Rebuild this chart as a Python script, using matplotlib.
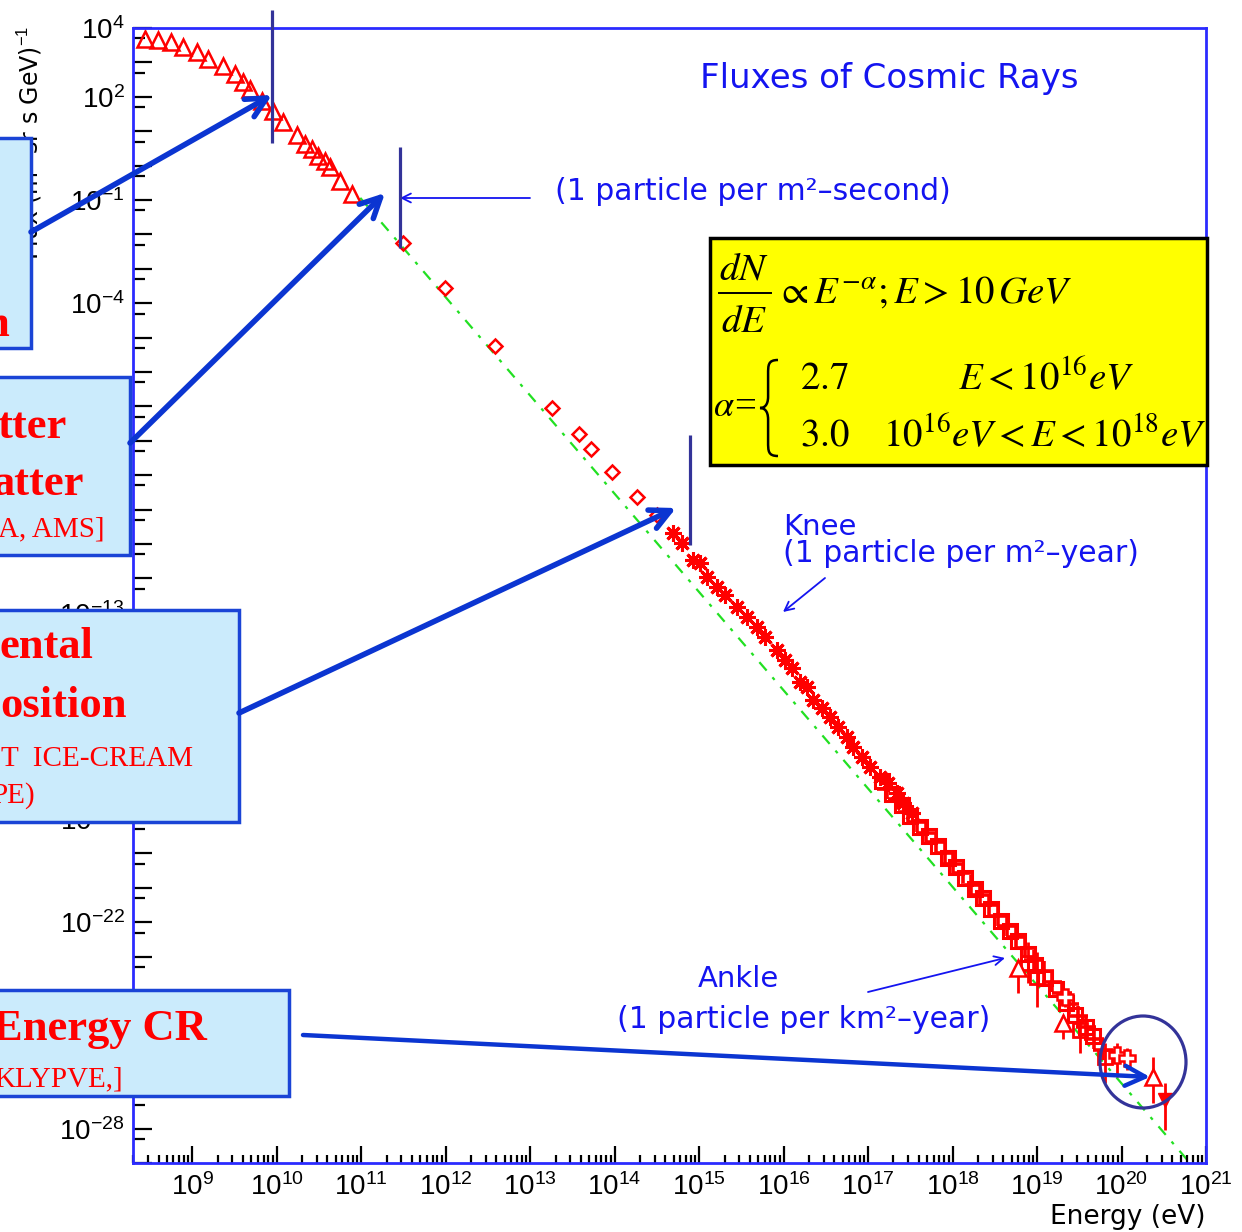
import matplotlib
matplotlib.use("Agg")
import matplotlib.pyplot as plt
import matplotlib.patches as mpatches
from matplotlib.path import Path
from matplotlib.ticker import FixedLocator, FuncFormatter, NullFormatter
import numpy as np

plt.rcParams["font.family"] = ["DejaVu Sans"]
plt.rcParams["mathtext.fontset"] = "custom"
plt.rcParams["mathtext.rm"] = "Liberation Sans"

W, H = 1242, 1232

# ---- measured spectrum, log10(E / eV) and log10(flux) ----
tri_logE = [8.44, 8.60, 8.75, 8.89, 9.06, 9.19, 9.37, 9.51, 9.60, 9.69, 9.83,
            9.96, 10.08, 10.24, 10.34, 10.42, 10.49, 10.57, 10.63, 10.75, 10.89]
tri_logF = [3.68, 3.65, 3.59, 3.45, 3.30, 3.10, 2.90, 2.66, 2.43, 2.23, 1.88,
            1.59, 1.27, 0.89, 0.63, 0.48, 0.28, 0.13, -0.04, -0.45, -0.83]

dia_logE = [11.50, 11.99, 12.59, 13.26, 13.58, 13.72, 13.97, 14.27, 14.50]
dia_logF = [-2.25, -3.56, -5.24, -7.05, -7.80, -8.24, -8.91, -9.63, -10.16]

star_logE = [14.69, 14.80, 14.93, 15.01, 15.09, 15.21, 15.31, 15.45, 15.57, 15.69,
             15.78, 15.92, 16.02, 16.10, 16.20, 16.28, 16.35, 16.46, 16.55, 16.64,
             16.75, 16.82, 16.93, 17.02, 17.14, 17.24, 17.34, 17.41, 17.52]
star_logF = [-10.68, -10.97, -11.47, -11.55, -11.96, -12.25, -12.48, -12.83, -13.12, -13.41,
             -13.70, -14.08, -14.37, -14.60, -15.01, -15.16, -15.53, -15.77, -16.03, -16.32,
             -16.61, -16.90, -17.19, -17.48, -17.77, -17.95, -18.24, -18.53, -18.82]

sq_logE = [17.16, 17.28, 17.40, 17.50, 17.62, 17.72, 17.83, 17.95, 18.04, 18.15, 18.26, 18.36,
           18.46, 18.57, 18.68, 18.78, 18.89, 18.98, 19.10, 19.22, 19.34, 19.45, 19.58, 19.66]
sq_logF = [-17.90, -18.26, -18.60, -18.90, -19.22, -19.48, -19.78, -20.12, -20.40, -20.72, -21.02, -21.30,
           -21.62, -21.95, -22.25, -22.55, -22.92, -23.25, -23.62, -23.95, -24.35, -24.70, -25.05, -25.30]

pl_logE = [17.22, 17.36, 17.47, 17.58, 17.69, 17.80, 17.91, 18.01, 18.12, 18.22, 18.33, 18.43,
           18.54, 18.64, 18.75, 18.86, 18.97, 19.08, 19.18, 19.29, 19.38, 19.48, 19.58, 19.68, 19.78]
pl_logF = [-18.12, -18.42, -18.80, -19.08, -19.40, -19.66, -19.98, -20.30, -20.58, -20.92, -21.20, -21.50,
           -21.82, -22.12, -22.42, -22.75, -23.10, -23.42, -23.75, -24.05, -24.38, -24.72, -25.05, -25.40, -25.70]

# highest energies, with error bars (low / high in log10 flux)
ank_sq_logE = [18.89, 19.00, 19.51, 19.80]
ank_sq_logF = [-23.18, -23.59, -25.13, -25.91]
ank_sq_lo = [-23.76, -24.46, -25.80, -26.67]
ank_sq_hi = [-22.57, -22.86, -24.84, -25.51]

ank_tri_logE = [18.78, 19.31, 20.37]
ank_tri_logF = [-23.33, -24.92, -26.49]
ank_tri_lo = [-24.05, -25.40, -27.25]
ank_tri_hi = [-23.10, -24.70, -25.91]

ank_pl_logE = [19.33, 19.95, 20.07]
ank_pl_logF = [-24.17, -25.85, -25.94]
ank_pl_lo = [-24.45, -26.49, -26.30]
ank_pl_hi = [-23.95, -25.51, -25.65]

top_logE = [20.51]
top_logF = [-27.16]
top_lo = [-28.03]
top_hi = [-26.67]

# power-law guide line
fit_logE = [10.99, 20.81]
fit_logF = [-0.94, -29.0]

# decades that carry a label (the rest sit behind the side boxes or are unlabelled)
y_labelled = [4, 2, -1, -4, -13, -19, -22, -28]

RED = "#ff0000"
BLUE_TXT = "#1414f0"
NAVY = "#333399"
ARROW = "#0b35d1"


def p(v):
    return 10.0 ** np.asarray(v, dtype=float)


fig = plt.figure(figsize=(W / 100, H / 100), dpi=100)
fig.patch.set_facecolor("white")

# ---- main log-log axes ----
ax = fig.add_axes([133 / W, 1 - 1163 / H, (1206 - 133) / W, (1163 - 28) / H])
ax.set_xscale("log")
ax.set_yscale("log")
ax.set_xlim(10 ** 8.3, 1e21)
ax.set_ylim(1e-29, 1e4)

ax.plot(p(fit_logE), p(fit_logF), color="#22e022", lw=1.6, ls=(0, (5, 4, 1.5, 4)), zorder=1)

ax.plot(p(tri_logE), p(tri_logF), ls="none", marker="^", mfc="none", mec=RED, ms=11, mew=1.8)
ax.plot(p(dia_logE), p(dia_logF), ls="none", marker="D", mfc="none", mec=RED, ms=7.5, mew=1.8)
ax.plot(p(star_logE), p(star_logF), ls="none", marker=(8, 2, 0), mec=RED, ms=12, mew=2.2)
ax.plot(p(sq_logE), p(sq_logF), ls="none", marker="s", mfc="none", mec=RED, ms=10, mew=2.2)
ax.plot(p(pl_logE), p(pl_logF), ls="none", marker="+", mec=RED, ms=14, mew=2.6)

ax.vlines(p(ank_sq_logE), p(ank_sq_lo), p(ank_sq_hi), color=RED, lw=2)
ax.plot(p(ank_sq_logE), p(ank_sq_logF), ls="none", marker="s", mfc="none", mec=RED, ms=10, mew=2)
ax.vlines(p(ank_tri_logE), p(ank_tri_lo), p(ank_tri_hi), color=RED, lw=2)
ax.plot(p(ank_tri_logE), p(ank_tri_logF), ls="none", marker="^", mfc="white", mec=RED, ms=11, mew=1.8)
ax.vlines(p(ank_pl_logE), p(ank_pl_lo), p(ank_pl_hi), color=RED, lw=2)
ax.plot(p(ank_pl_logE), p(ank_pl_logF), ls="none", marker="P", mfc="white", mec=RED, ms=12, mew=1.8)
ax.vlines(p(top_logE), p(top_lo), p(top_hi), color=RED, lw=2)
ax.plot(p(top_logE), p(top_logF), ls="none", marker="v", color=RED, ms=10)

# ticks: decades long, intermediate short, all pointing inwards
ax.xaxis.set_major_locator(FixedLocator(p(range(9, 22))))
ax.xaxis.set_minor_locator(FixedLocator([m * 10.0 ** k for k in range(8, 21) for m in range(2, 10)]))
ax.xaxis.set_major_formatter(FuncFormatter(lambda v, pos: r"$\mathregular{10^{%d}}$" % round(np.log10(v))))
ax.xaxis.set_minor_formatter(NullFormatter())

ax.yaxis.set_major_locator(FixedLocator(p(range(-29, 5))))
ax.yaxis.set_minor_locator(FixedLocator([5 * 10.0 ** k for k in range(-30, 4)]))


def ylab(v, pos):
    k = round(np.log10(v))
    return r"$\mathregular{10^{%d}}$" % k if k in y_labelled else ""


ax.yaxis.set_major_formatter(FuncFormatter(ylab))
ax.yaxis.set_minor_formatter(NullFormatter())

ax.tick_params(which="both", direction="in", color="black", width=1.6,
               top=False, right=False, labelsize=20, labelcolor="black")
ax.tick_params(axis="x", which="major", length=12, pad=7)
ax.tick_params(axis="x", which="minor", length=6)
ax.tick_params(axis="y", which="major", length=14, pad=6)
ax.tick_params(axis="y", which="minor", length=8.5)
for lbl in ax.get_xticklabels() + ax.get_yticklabels():
    lbl.set_fontfamily("Liberation Sans")
for s in ax.spines.values():
    s.set_color("#2b2bff")
    s.set_linewidth(2)

# ---- overlay in pixel coordinates for boxes, arrows and notes ----
ov = fig.add_axes([0, 0, 1, 1], zorder=5)
ov.set_xlim(0, W)
ov.set_ylim(H, 0)
ov.axis("off")

ov.text(30, 26, "Flux (m$^2$ sr s GeV)$^{-1}$", rotation=90, ha="center", va="top",
        fontsize=17, color="black", zorder=1)

# title and annotations
ov.text(700, 88, "Fluxes of Cosmic Rays", fontsize=24.5, color=BLUE_TXT, va="baseline")
ov.text(555, 200, "(1 particle per m²–second)", fontsize=21.5, color=BLUE_TXT, va="baseline")
ov.text(783, 535, "Knee", fontsize=21, color=BLUE_TXT, va="baseline")
ov.text(783, 562, "(1 particle per m²–year)", fontsize=21.5, color=BLUE_TXT, va="baseline")
ov.text(698, 987, "Ankle", fontsize=21, color=BLUE_TXT, va="baseline")
ov.text(617, 1028, "(1 particle per km²–year)", fontsize=21.5, color=BLUE_TXT, va="baseline")
ov.text(1205, 1224, "Energy (eV)", fontsize=19, color="black", ha="right", va="baseline")


def thin_arrow(x1, y1, x2, y2):
    ov.add_patch(mpatches.FancyArrowPatch((x1, y1), (x2, y2), arrowstyle="->", mutation_scale=16,
                                          color=BLUE_TXT, lw=1.3, shrinkA=0, shrinkB=0, zorder=3))


thin_arrow(530, 198, 400, 198)
thin_arrow(825, 578, 783, 612)
thin_arrow(868, 992, 1005, 958)

# navy markers and ring
for x, y0, y1 in [(272, 10, 143), (400, 147, 248), (690, 435, 545)]:
    ov.plot([x, x], [y0, y1], color=NAVY, lw=2.3, solid_capstyle="butt", zorder=3)
ov.add_patch(mpatches.Ellipse((1143, 1062), 86, 92, fill=False, ec=NAVY, lw=2.3, zorder=3))

# formula box
ov.add_patch(mpatches.Rectangle((710, 238), 497, 227, fc="#ffff00", ec="black", lw=2.5, zorder=3))
fkw = dict(fontsize=28, color="black", va="baseline", math_fontfamily="stix", zorder=4)
ov.text(744, 279, r"$dN$", ha="center", **fkw)
ov.plot([719, 771], [293, 293], color="black", lw=1.4, zorder=4)
ov.text(744, 332, r"$dE$", ha="center", **fkw)
ov.text(776, 303, r"$\propto E^{-\alpha}; E > 10\,GeV$", ha="left", **fkw)
ov.text(713, 416, r"$\alpha$", ha="left", fontsize=26, color="black", va="baseline",
        math_fontfamily="stix", zorder=4)
ov.text(734, 417, "=", ha="left", fontsize=28, fontfamily="Liberation Serif", va="baseline", zorder=4)
ov.text(800, 389, r"$2.7$", ha="left", **fkw)
ov.text(958, 389, r"$E<10^{16}eV$", ha="left", **fkw)
ov.text(800, 446, r"$3.0$", ha="left", **fkw)
ov.text(883, 446, r"$10^{16}eV<E<10^{18}eV$", ha="left", **fkw)


def brace(x, y0, y1, w):
    h = y1 - y0
    ym = (y0 + y1) / 2
    xs = x + 0.45 * w
    verts = [(x + w, y0), (xs, y0), (xs, y0 + 0.05 * h), (xs, y0 + 0.15 * h),
             (xs, ym - 0.12 * h),
             (xs, ym - 0.02 * h), (x + 0.2 * w, ym), (x, ym),
             (x + 0.2 * w, ym), (xs, ym + 0.02 * h), (xs, ym + 0.12 * h),
             (xs, y1 - 0.15 * h),
             (xs, y1 - 0.05 * h), (xs, y1), (x + w, y1)]
    codes = [Path.MOVETO, Path.CURVE4, Path.CURVE4, Path.CURVE4, Path.LINETO,
             Path.CURVE4, Path.CURVE4, Path.CURVE4, Path.CURVE4, Path.CURVE4, Path.CURVE4,
             Path.LINETO, Path.CURVE4, Path.CURVE4, Path.CURVE4]
    ov.add_patch(mpatches.PathPatch(Path(verts, codes), fill=False, ec="black", lw=1.8, zorder=4))


brace(760, 360, 456, 18)

# side boxes
BOX_FC = "#cbebfc"
BOX_EC = "#1a44d6"
for x0, y0, x1, y1 in [(-10, 138, 31, 348), (-10, 377, 130, 555), (-10, 610, 239, 822), (-10, 990, 289, 1096)]:
    ov.add_patch(mpatches.Rectangle((x0, y0), x1 - x0, y1 - y0, fc=BOX_FC, ec=BOX_EC, lw=2.5, zorder=6))

big = dict(fontfamily="Liberation Serif", fontweight="bold", fontsize=32, color=RED,
           ha="right", va="baseline", zorder=7)
small = dict(fontfamily="Liberation Serif", fontsize=21, color=RED, ha="right", va="baseline", zorder=7)
ov.text(10, 336, "n", **big)
ov.text(67, 438, "tter", **big)
ov.text(84, 495, "atter", **big)
ov.text(105, 536, "A, AMS]", **small)
ov.text(93, 658, "ental", **big)
ov.text(127, 717, "osition", **big)
ov.text(193, 766, "T  ICE-CREAM", **small)
ov.text(35, 803, "PE)", **small)
ov.text(207, 1040, "Energy CR", **big)
ov.text(123, 1086, "KLYPVE,]", **small)


def fat_arrow(x1, y1, x2, y2, lw=4.0):
    ov.add_patch(mpatches.FancyArrowPatch((x1, y1), (x2, y2), arrowstyle="->", mutation_scale=36,
                                          color=ARROW, lw=lw, shrinkA=0, shrinkB=0, zorder=8))


fat_arrow(31, 232, 272, 95)
fat_arrow(130, 443, 385, 193)
fat_arrow(239, 713, 676, 508)
fat_arrow(303, 1035, 1150, 1077, lw=3.2)

fig.savefig("out.png", dpi=100, facecolor="white")
